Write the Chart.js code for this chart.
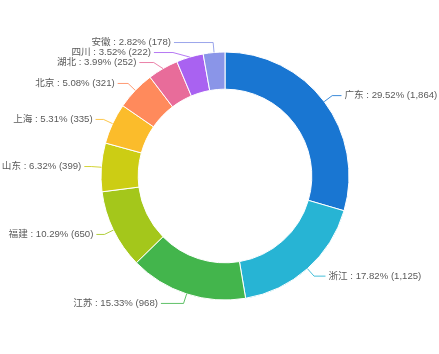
<!DOCTYPE html>
<html>
<head>
<meta charset="utf-8">
<script src="https://cdn.jsdelivr.net/npm/chart.js@4/dist/chart.umd.min.js"></script>
<style>
html,body{margin:0;padding:0;background:#fff;}
#wrap{width:439px;height:354px;position:relative;}
</style>
</head>
<body>
<div id="wrap"><canvas id="c" width="439" height="354"></canvas></div>
<script>
const categories = ['广东','浙江','江苏','福建','山东','上海','北京','湖北','四川','安徽'];
const values = [1864,1125,968,650,399,335,321,252,222,178];
const colors = ['#1976D2','#27B4D4','#43B54C','#A4C71B','#CCCD14','#FBBC2B','#FF8A5C','#E86C9A','#A962F1','#8A95E8'];

const total = values.reduce((a,b)=>a+b,0);
function fmt(n){return n.toLocaleString('en-US');}

const labelPlugin = {
  id:'outerLabels',
  afterDatasetsDraw(chart){
    const ctx = chart.ctx;
    const meta = chart.getDatasetMeta(0);
    const L1 = 10, L2 = 10, GAP = 3, SP = 10;
    const items = meta.data.map((arc,i)=>{
      const p = arc.getProps(['x','y','startAngle','endAngle','outerRadius'], true);
      const mid = (p.startAngle + p.endAngle)/2;
      const r = p.outerRadius;
      const ax = p.x + Math.cos(mid)*r, ay = p.y + Math.sin(mid)*r;
      const ly = p.y + Math.sin(mid)*(r+L1);
      const dir = Math.cos(mid) >= 0 ? 1 : -1;
      return {i, cx:p.x, cy:p.y, r, mid, ax, ay, ly, dir};
    });
    [1,-1].forEach(d=>{
      const side = items.filter(it=>it.dir===d).sort((a,b)=>a.ly-b.ly);
      for(let k=1;k<side.length;k++){
        if(side[k].ly - side[k-1].ly < SP) side[k].ly = side[k-1].ly + SP;
      }
    });
    ctx.save();
    ctx.font = '9.6px "Liberation Sans", Arial, "Noto Sans CJK SC", sans-serif';
    ctx.textBaseline = 'middle';
    items.forEach(it=>{
      const dy = Math.abs(it.ly - it.cy);
      const R1 = it.r + L1, R2 = it.r + L1 + L2;
      const ex = it.cx + it.dir * (dy < R1 ? Math.sqrt(R1*R1 - dy*dy) : 0);
      const tx = it.cx + it.dir * (dy < R2 ? Math.sqrt(R2*R2 - dy*dy) : 0);
      ctx.strokeStyle = colors[it.i];
      ctx.globalAlpha = 0.85;
      ctx.lineWidth = 1;
      ctx.beginPath();
      ctx.moveTo(it.ax, it.ay);
      ctx.lineTo(ex, it.ly);
      ctx.lineTo(tx - it.dir*GAP, it.ly);
      ctx.stroke();
      ctx.globalAlpha = 1;
      const pct = (values[it.i]/total*100).toFixed(2);
      const txt = categories[it.i] + ' : ' + pct + '% (' + fmt(values[it.i]) + ')';
      ctx.fillStyle = '#5a5a5a';
      ctx.textAlign = it.dir > 0 ? 'left' : 'right';
      ctx.fillText(txt, tx, it.ly);
    });
    ctx.restore();
  }
};

new Chart(document.getElementById('c'), {
  type:'doughnut',
  data:{
    labels: categories,
    datasets:[{
      data: values,
      backgroundColor: colors,
      borderColor:'#fff',
      borderWidth:1,
      hoverOffset:0
    }]
  },
  options:{
    responsive:false,
    animation:false,
    radius:124,
    cutout:'70%',
    layout:{padding:{left:11,right:0,top:0,bottom:2}},
    plugins:{legend:{display:false},tooltip:{enabled:false}}
  },
  plugins:[labelPlugin]
});
</script>
</body>
</html>
